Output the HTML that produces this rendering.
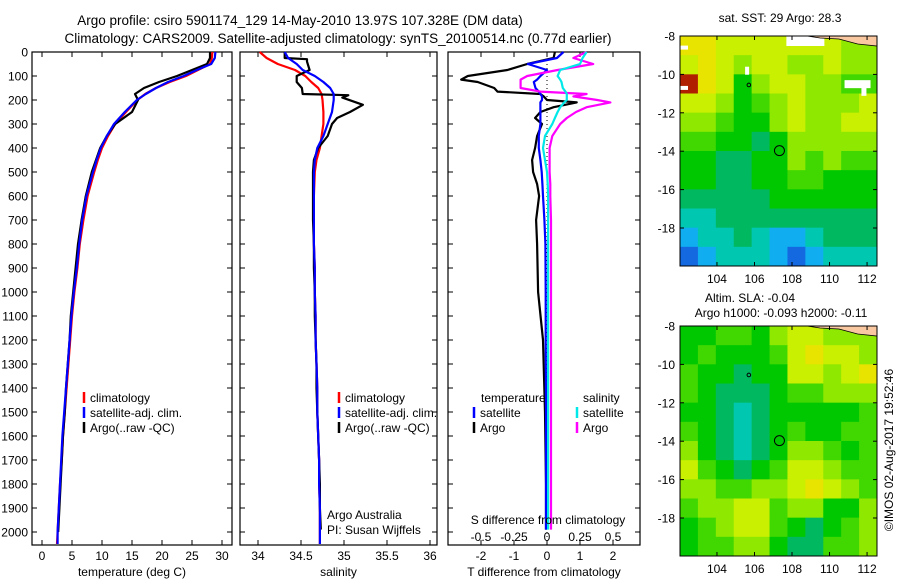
<!DOCTYPE html>
<html><head><meta charset="utf-8">
<style>
body{margin:0;background:#fff;}
svg{display:block;font-family:"Liberation Sans",sans-serif;}
text{fill:#000;}
</style></head>
<body>
<svg id="fig" width="900" height="580" viewBox="0 0 900 580" xmlns="http://www.w3.org/2000/svg">
<text x="300" y="25" font-size="13.5" text-anchor="middle">Argo profile: csiro 5901174_129 14-May-2010 13.97S 107.328E (DM data)</text>
<text x="338" y="43" font-size="13.5" text-anchor="middle">Climatology: CARS2009. Satellite-adjusted climatology: synTS_20100514.nc (0.77d earlier)</text>
<text x="780" y="22" font-size="12" text-anchor="middle">sat. SST: 29 Argo: 28.3</text>
<text x="750" y="302" font-size="12" text-anchor="middle">Altim. SLA: -0.04</text>
<text x="781" y="317" font-size="12" text-anchor="middle">Argo h1000: -0.093 h2000: -0.11</text>
<text transform="translate(893,450) rotate(-90)" font-size="12" text-anchor="middle">©IMOS 02-Aug-2017 19:52:46</text>
<g id="plots"></g>
</svg>
<script>
// ---- data ----
const depths = [0,25,50,75,100,125,150,175,200,250,300,350,400,450,500,600,700,800,900,1000,1100,1200,1300,1400,1500,1600,1700,1800,1900,2000,2050];
const tempClim = [28.4,28.3,28.0,26,24,21.3,19,17.2,15.9,14,12.2,11,10,9.3,8.7,7.6,6.9,6.3,5.9,5.4,5.0,4.7,4.4,4.1,3.8,3.5,3.3,3.0,2.8,2.6,2.5];
const tempSat = [28.9,28.8,28.2,25.8,23.6,21,19,17.3,15.8,13.8,12.0,10.8,9.8,9.1,8.5,7.4,6.7,6.2,5.8,5.3,4.9,4.6,4.3,4.0,3.7,3.4,3.2,3.0,2.8,2.6,2.6];
const tempArgo = [28.0,28.0,27.5,25,22.5,19.5,17,15.5,16.0,15.0,12.2,10.8,9.7,9.0,8.3,7.3,6.6,6.0,5.6,5.2,4.8,4.6,4.3,4.0,3.8,3.5,3.3,3.1,2.9,2.7,null];
const salClim = [34.02,34.1,34.23,34.43,34.55,34.62,34.7,34.74,34.75,34.76,34.76,34.74,34.72,34.68,34.66,34.65,34.65,34.65,34.66,34.66,34.67,34.67,34.68,34.69,34.69,34.70,34.71,34.71,34.72,34.72,34.72];
const salSat = [34.31,34.35,34.45,34.52,34.66,34.76,34.84,34.88,34.88,34.86,34.81,34.76,34.69,34.66,34.65,34.65,34.65,34.65,34.66,34.66,34.67,34.67,34.68,34.69,34.69,34.70,34.71,34.71,34.72,34.72,34.72];
const salArgoDepths = [0,25,30,40,75,100,125,150,175,180,190,220,250,275,300,350,400,450,500,600,700,800,900,1000,1100,1200,1300,1400,1500,1600,1700,1800,1900,1990];
const salArgo = [34.31,34.31,34.57,34.57,34.6,34.45,34.45,34.51,34.52,35.05,34.98,35.22,35.07,34.92,34.86,34.81,34.7,34.65,34.64,34.64,34.64,34.65,34.65,34.66,34.66,34.67,34.68,34.68,34.69,34.7,34.71,34.72,34.72,34.73];
const diffDepths = [0,25,50,75,100,115,125,150,165,175,185,200,210,230,250,275,300,350,400,450,500,550,600,700,800,1000,1200,1500,1800,1990];
const dTArgo = [0.24,0.2,-0.6,-1.2,-2.4,-2.6,-2.1,-1.6,-1.5,-0.2,-0.1,0,0.9,0.2,-0.2,-0.36,-0.15,-0.3,-0.36,-0.45,-0.42,-0.3,-0.24,-0.33,-0.3,-0.27,-0.12,-0.06,-0.03,-0.03];
const dTSat = [0.5,0.3,-0.58,0,-0.2,-0.3,-0.4,-0.35,-0.25,-0.2,-0.15,-0.15,-0.2,-0.2,-0.2,-0.2,-0.2,-0.25,-0.25,-0.2,-0.16,-0.14,-0.12,-0.08,-0.05,-0.04,-0.04,-0.03,-0.03,-0.03];
const dSArgo = [0.3,0.2,0.35,0.08,-0.15,-0.2,-0.2,-0.2,-0.05,0.3,0.2,0.38,0.48,0.3,0.22,0.15,0.1,0.04,0.02,0.02,0.02,0.025,0.025,0.03,0.03,0.03,0.03,0.03,0.03,0.03];
const dSSat = [0.3,0.27,0.25,0.1,0.08,0.1,0.11,0.12,0.14,0.15,0.15,0.15,0.13,0.1,0.08,0.06,0.04,-0.015,-0.03,-0.015,0,0.005,0.008,0.008,0.008,0.008,0.008,0.008,0.008,0.008];
const depthTicks = [0,100,200,300,400,500,600,700,800,900,1000,1100,1200,1300,1400,1500,1600,1700,1800,1900,2000];
const tempTicks = [0,5,10,15,20,25,30];
const salTicks = [34,34.5,35,35.5,36];
const tDiffTicks = [-2,-1,0,1,2];
const sDiffTicks = [-0.5,-0.25,0,0.25,0.5];
const sDiffLabels = ["-0.5","-0.25","0","0.25","0.5"];
const lonTicks = [104,106,108,110,112];
const latTicks = [-8,-10,-12,-14,-16,-18];
const sstGrid = [
[9,9,8,8,8,8,8,8,8,7,7],
[8,9,8,7,8,8,7,7,8,7,7],
[11,9,8,5,7,8,8,7,7,6,6],
[8,8,7,5,6,7,8,7,7,7,8],
[7,7,6,5,5,7,8,7,7,8,8],
[6,6,5,5,4,5,7,7,7,7,7],
[5,5,4,4,5,5,7,6,7,6,6],
[5,5,4,4,5,5,6,6,5,5,5],
[4,4,4,4,4,5,5,5,5,5,5],
[3,3,4,4,4,4,4,4,4,4,4],
[2,3,3,4,3,2,2,3,4,4,4],
[1,2,3,3,3,2,1,2,3,3,3]];
const slaGrid = [
[5,5,6,6,5,7,8,8,7,7,7],
[5,6,5,5,5,6,8,9,8,8,7],
[6,5,5,4,5,5,8,8,7,8,9],
[6,5,4,4,4,5,6,6,7,7,7],
[5,5,4,3,4,5,5,5,5,5,6],
[6,5,4,3,4,5,6,5,5,6,6],
[7,5,4,3,4,5,7,7,6,5,6],
[8,6,5,4,5,6,8,8,7,6,6],
[7,7,6,6,7,7,8,9,8,7,6],
[6,7,7,8,8,6,7,7,5,5,7],
[5,6,7,8,8,6,5,4,5,6,7],
[5,6,6,7,7,5,4,4,6,6,7]];
const palette = ["#0c2a9a","#1468e0","#10aef0","#00c8b0","#00b860","#00c800","#40d800","#8ee800","#c8f000","#e8e400","#f0b000","#b02000"];
const argoLon = 107.33, argoLat = -13.97;

// ---- helpers ----
const NS = "http://www.w3.org/2000/svg";
const root = document.getElementById("plots");
function mk(tag, attrs, parent){ const e=document.createElementNS(NS,tag); for(const k in attrs) e.setAttribute(k,attrs[k]); (parent||root).appendChild(e); return e; }
const Y0=52, Y1=545;
const yD = d => Y0 + d*0.24;

function panel(name, x0, x1, xScale, ticks, labels, title, showDepth){
  const g = mk("g",{});
  
  
  const fr = mk("rect",{x:x0,y:Y0,width:x1-x0,height:Y1-Y0,fill:"none",stroke:"#000","stroke-width":1.2},g);
  
  
  depthTicks.forEach(d=>{
    const y=yD(d);
    mk("line",{x1:x0,x2:x0+5,y1:y,y2:y,stroke:"#000"},g);
    mk("line",{x1:x1-5,x2:x1,y1:y,y2:y,stroke:"#000"},g);
    if(showDepth){
      const t=mk("text",{x:x0-4,y:y+4.5,"font-size":12,"text-anchor":"end"},g);
      t.textContent=d;
      
      
    }
  });
  ticks.forEach((v,i)=>{
    const x=xScale(v);
    mk("line",{x1:x,x2:x,y1:Y0,y2:Y0+5,stroke:"#000"},g);
    mk("line",{x1:x,x2:x,y1:Y1-5,y2:Y1,stroke:"#000"},g);
    const t=mk("text",{x:x,y:560,"font-size":12,"text-anchor":"middle"},g);
    t.textContent=labels[i];
    
    
  });
  const tt=mk("text",{x:(x0+x1)/2,y:576,"font-size":12,"text-anchor":"middle"},g);
  tt.textContent=title;
  
  
  return g;
}
function line(g, xs, ds, xScale, color, name){
  const pts=[];
  xs.forEach((v,i)=>{ if(v!==null) pts.push(xScale(v).toFixed(1)+","+yD(ds[i]).toFixed(1)); });
  const p=mk("polyline",{points:pts.join(" "),fill:"none",stroke:color,"stroke-width":2.2,"stroke-linejoin":"round"},g);
  
  
}
function legend(g, x, y, color, label, name){
  mk("line",{x1:x,x2:x,y1:y-10,y2:y+1,stroke:color,"stroke-width":2.5},g);
  const t=mk("text",{x:x+6,y:y,"font-size":12},g);
  t.textContent=label;
  
  
}

// ---- temperature panel ----
const xT = v => 42 + v*6;
const gT = panel("temperature-panel",32,232,xT,tempTicks,tempTicks.map(String),"temperature (deg C)",true);
line(gT,tempClim,depths,xT,"#ff0000","temp-climatology-line");
line(gT,tempArgo,depths,xT,"#000000","temp-argo-line");
line(gT,tempSat,depths,xT,"#0000ff","temp-satellite-line");
legend(gT,84,402,"#ff0000","climatology","legend-climatology");
legend(gT,84,417,"#0000ff","satellite-adj. clim.","legend-satellite");
legend(gT,84,432,"#000000","Argo(..raw -QC)","legend-argo");

// ---- salinity panel ----
const xS = v => 258 + (v-34)*86;
const gS = panel("salinity-panel",240,437,xS,salTicks,salTicks.map(String),"salinity",false);
line(gS,salClim,depths,xS,"#ff0000","sal-climatology-line");
line(gS,salArgo,salArgoDepths,xS,"#000000","sal-argo-line");
line(gS,salSat,depths,xS,"#0000ff","sal-satellite-line");
legend(gS,339,402,"#ff0000","climatology","legend-climatology");
legend(gS,339,417,"#0000ff","satellite-adj. clim.","legend-satellite");
legend(gS,339,432,"#000000","Argo(..raw -QC)","legend-argo");
[["Argo Australia",519],["PI: Susan Wijffels",534]].forEach(a=>{
  const t=mk("text",{x:327,y:a[1],"font-size":12},gS);
  t.textContent=a[0];
  
  
});

// ---- difference panel ----
const xDT = v => 547 + v*33;
const xDS = v => 547 + v*132;
const gD = panel("difference-panel",448,640,xDT,tDiffTicks,tDiffTicks.map(String),"T difference from climatology",false);
mk("line",{x1:xDT(0),x2:xDT(0),y1:Y0,y2:Y1,stroke:"#000","stroke-dasharray":"1,3"},gD);
line(gD,dTArgo,diffDepths,xDT,"#000000","tdiff-argo-line");
line(gD,dTSat,diffDepths,xDT,"#0000ff","tdiff-satellite-line");
line(gD,dSArgo,diffDepths,xDS,"#ff00ff","sdiff-argo-line");
line(gD,dSSat,diffDepths,xDS,"#00e8e8","sdiff-satellite-line");
sDiffTicks.forEach((v,i)=>{
  const t=mk("text",{x:xDS(v),y:541,"font-size":12,"text-anchor":"middle"},gD);
  t.textContent=sDiffLabels[i];
  
  
});
const sdt=mk("text",{x:548,y:524,"font-size":12,"text-anchor":"middle"},gD);
sdt.textContent="S difference from climatology";


const lt=mk("text",{x:481,y:402,"font-size":12},gD); lt.textContent="temperature";


const ls=mk("text",{x:583,y:402,"font-size":12},gD); ls.textContent="salinity";


legend(gD,474,417,"#0000ff","satellite","legend-t-satellite");
legend(gD,474,432,"#000000","Argo","legend-t-argo");
legend(gD,577,417,"#00e8e8","satellite","legend-s-satellite");
legend(gD,577,432,"#ff00ff","Argo","legend-s-argo");

// ---- maps ----
function map(name, grid, top, whites){
  const L=680,R=877,T=top,B=top+230;
  const lonX = v => L + (v-102.03)*(R-L)/10.5;
  const latY = v => T + (-8-v)*19.2;
  const g=mk("g",{});
  
  
  const cw=(R-L)/11, ch=(B-T)/12;
  grid.forEach((row,r)=>row.forEach((c,k)=>{
    const cell=mk("rect",{x:L+k*cw,y:T+r*ch,width:cw+0.5,height:ch+0.5,fill:palette[c]},g);
    
    
  }));
  whites.forEach(w=>mk("rect",{x:lonX(w[0]),y:latY(w[1]),width:w[2],height:w[3],fill:"#fff"},g));
  mk("path",{d:`M${lonX(108.8)},${T} L${lonX(109.5)},${T+2} L${lonX(110.5)},${T+3} L${lonX(111.5)},${T+8} L${R},${T+10} L${R},${T} Z`,fill:"#fac8a0",stroke:"#000","stroke-width":0.8},g);
  const c=mk("circle",{cx:lonX(argoLon),cy:latY(argoLat),r:5,fill:"none",stroke:"#000","stroke-width":1},g);
  
  
  mk("circle",{cx:lonX(105.7),cy:latY(-10.55),r:1.8,fill:"none",stroke:"#000","stroke-width":1},g);
  mk("rect",{x:L,y:T,width:R-L,height:B-T,fill:"none",stroke:"#000","stroke-width":1},g);
  lonTicks.forEach(v=>{
    const x=lonX(v);
    mk("line",{x1:x,x2:x,y1:T,y2:T+4,stroke:"#000"},g);
    mk("line",{x1:x,x2:x,y1:B-4,y2:B,stroke:"#000"},g);
    const t=mk("text",{x:x,y:B+17,"font-size":12,"text-anchor":"middle"},g);
    t.textContent=v;
    
    
  });
  latTicks.forEach(v=>{
    const y=latY(v);
    mk("line",{x1:L,x2:L+4,y1:y,y2:y,stroke:"#000"},g);
    mk("line",{x1:R-4,x2:R,y1:y,y2:y,stroke:"#000"},g);
    const t=mk("text",{x:L-5,y:y+4.5,"font-size":12,"text-anchor":"end"},g);
    t.textContent=v;
    
    
  });
}
map("sst-map",sstGrid,36,[[102.03,-8.5,8,4],[107.7,-8,38,10],[110.8,-10.3,26,8],[111.7,-10.7,5,8],[102.03,-10.6,8,4],[105.5,-9.6,4,8]]);
map("sla-map",slaGrid,326,[]);
</script>
</body></html>
